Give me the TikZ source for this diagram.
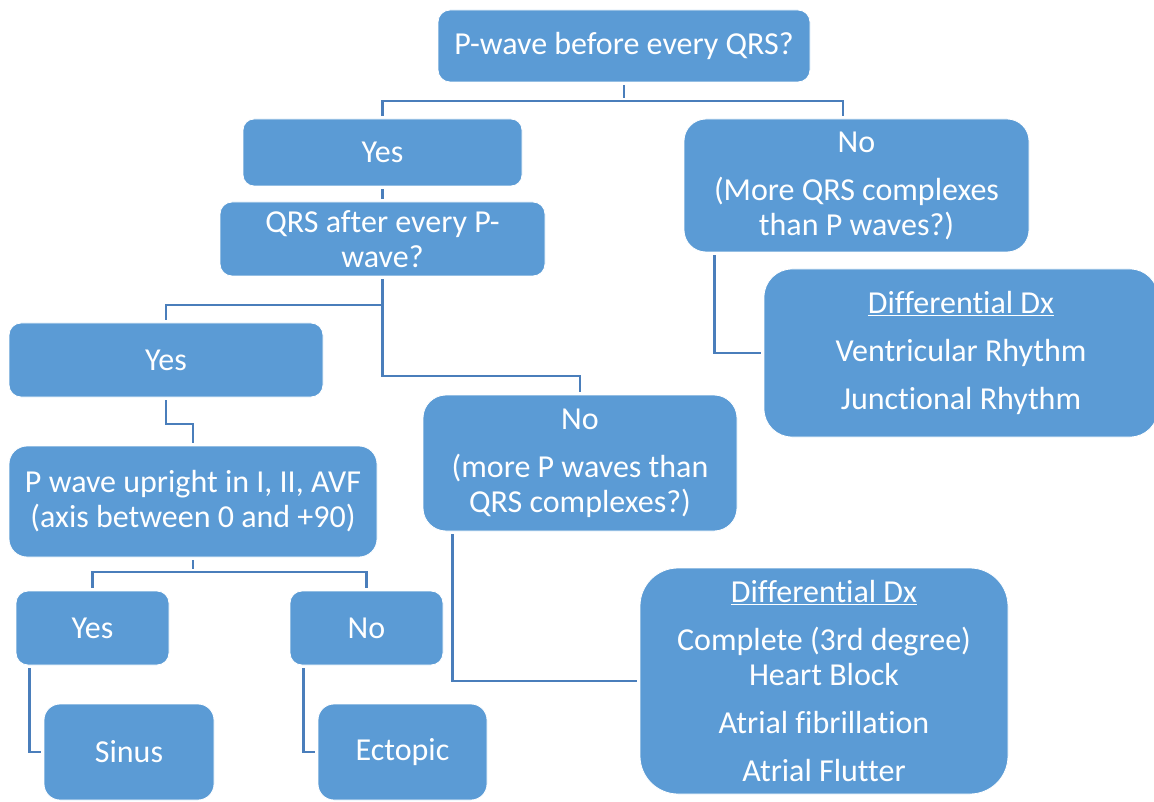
\documentclass[tikz,border=0pt]{standalone}
\usepackage{fontspec}
\setmainfont[Ligatures=NoCommon]{Carlito}
\definecolor{boxblue}{HTML}{5B9BD5}
\definecolor{connblue}{HTML}{4A7EBB}
\begin{document}
\begin{tikzpicture}[x=1pt,y=-1pt,
  box/.style={rectangle, fill=boxblue, draw=white, line width=0.8pt, text=white,
    align=center, inner sep=0pt, font=\fontsize{32}{35}\selectfont},
  conn/.style={draw=connblue, line width=2.5pt, shorten <=3pt, shorten >=3pt},
  connj/.style={draw=connblue, line width=2.5pt, shorten >=3pt}]
\useasboundingbox (0,0) rectangle (1154,802);

\node[box, minimum width=372pt, minimum height=72pt, rounded corners=12pt] (top) at (624,46) {P-wave before every QRS?};
\node[box, minimum width=279pt, minimum height=67pt, rounded corners=11pt] (yes1) at (382.5,152.5) {Yes};
\node[box, minimum width=325pt, minimum height=74pt, rounded corners=12pt] (qrs) at (382.5,239) {QRS after every P-\\wave?};
\node[box, minimum width=345pt, minimum height=133pt, rounded corners=22pt] (no1) at (856.5,185.5) {No\\[13pt](More QRS complexes\\than P waves?)};
\node[box, minimum width=394pt, minimum height=168pt, rounded corners=28pt] (dx1) at (961,353) {\underline{Differential Dx}\\[13pt]Ventricular Rhythm\\[13pt]Junctional Rhythm};
\node[box, minimum width=314pt, minimum height=74pt, rounded corners=12pt] (yes2) at (166,360) {Yes};
\node[box, minimum width=368pt, minimum height=111pt, rounded corners=18pt] (pw) at (193,501.5) {P wave upright in I, II, AVF\\(axis between 0 and +90)};
\node[box, minimum width=314pt, minimum height=136pt, rounded corners=23pt] (no2) at (580,463) {No\\[13pt](more P waves than\\QRS complexes?)};
\node[box, minimum width=153pt, minimum height=74pt, rounded corners=12pt] (yes3) at (92.5,628) {Yes};
\node[box, minimum width=153pt, minimum height=74pt, rounded corners=12pt] (no3) at (366.5,628) {No};
\node[box, minimum width=170pt, minimum height=96pt, rounded corners=16pt] (sinus) at (129,752) {Sinus};
\node[box, minimum width=169pt, minimum height=96pt, rounded corners=16pt] (ectopic) at (402.5,752) {Ectopic};
\node[box, minimum width=368pt, minimum height=226pt, rounded corners=38pt] (dx2) at (824,681) {\underline{Differential Dx}\\[13pt]Complete (3rd degree)\\Heart Block\\[13pt]Atrial fibrillation\\[13pt]Atrial Flutter};

\coordinate (j1) at (624,101);
\coordinate (j2) at (382.5,305);
\coordinate (j3) at (382.5,376);
\coordinate (j4) at (166,424);
\coordinate (j5) at (193,572);

\draw[connj] (top.south) ++(0,3) -- (j1);
\draw[conn] (yes1.north) |- (j1) -| ([xshift=-13.5pt]no1.north);
\draw[conn] (yes1.south) -- (qrs.north);
\draw[conn] (qrs.south) -- (j3) -| (no2.north);
\draw[connj] (j2) -| (yes2.north);
\draw[conn] (yes2.south) -- (j4) -| (pw.north);
\draw[connj] (pw.south) ++(0,3) -- (j5);
\draw[conn] (yes3.north) |- (j5) -| (no3.north);
\draw[conn] ([xshift=14pt]yes3.south west) |- (sinus.west);
\draw[conn] ([xshift=14pt]no3.south west) |- (ectopic.west);
\draw[conn] ([xshift=31pt]no1.south west) |- (dx1.west);
\draw[conn] ([xshift=30pt]no2.south west) |- (dx2.west);
\end{tikzpicture}
\end{document}
